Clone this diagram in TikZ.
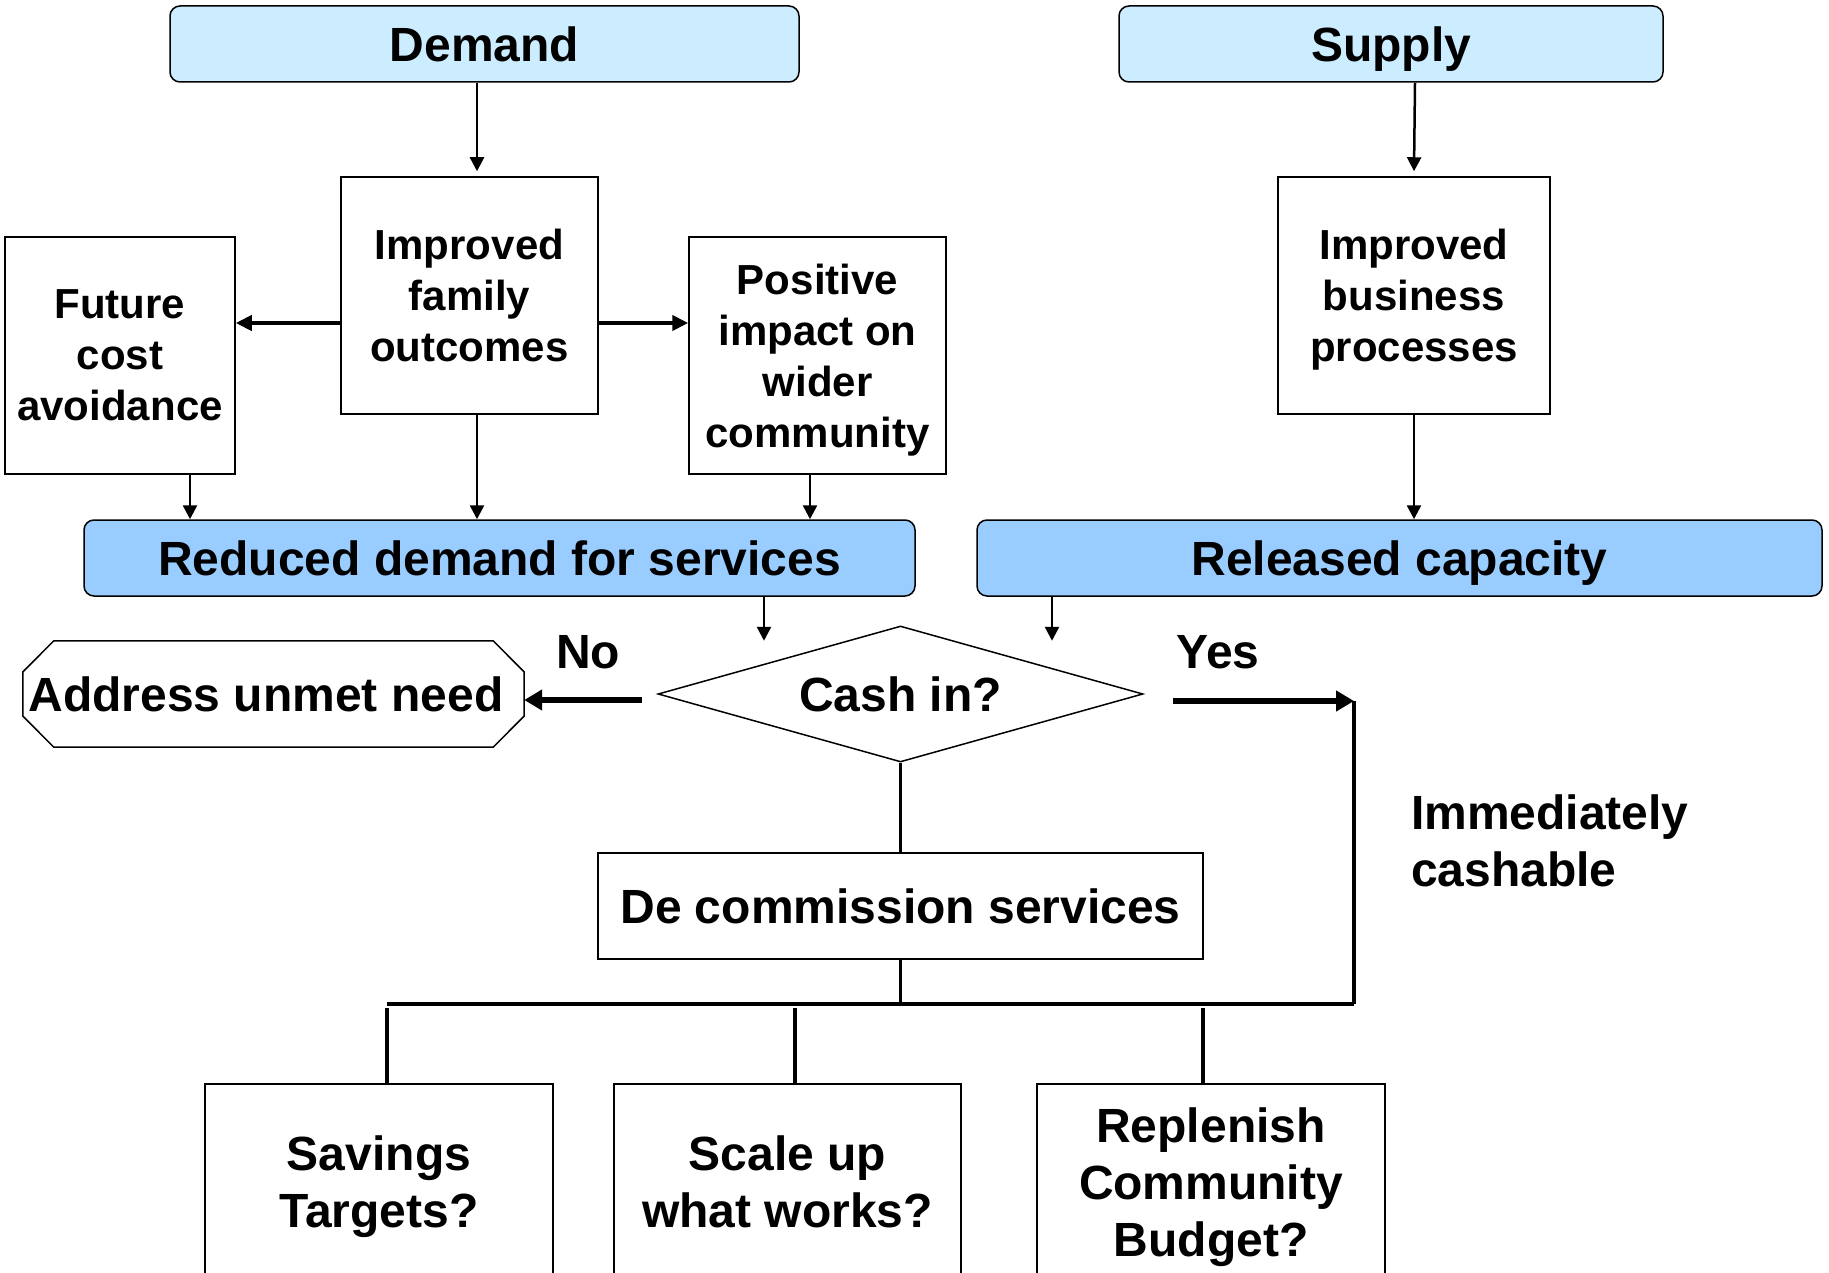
\documentclass[tikz,border=0pt]{standalone}
\usepackage{fontspec}
\setmainfont{Liberation Sans}
\usetikzlibrary{arrows.meta,shapes.geometric}
\definecolor{lightblue}{HTML}{CCECFF}
\definecolor{midblue}{HTML}{99CCFF}
\newcommand\nodp[1]{\raisebox{0pt}[\height][0pt]{#1}}
\begin{document}
\begin{tikzpicture}[x=1pt,y=-1pt,
  bigtext/.style={font=\bfseries\fontsize{48}{57}\selectfont},
  midtext/.style={font=\bfseries\fontsize{42}{51}\selectfont},
  box/.style={draw=black,line width=1.5pt,rectangle,inner sep=0pt,align=center},
  oneline/.style={text height=35pt,text depth=0pt},
  headbox/.style={box,rounded corners=10pt,bigtext,oneline,minimum height=76pt},
  thinarr/.style={line width=2.5pt,-{Triangle[length=14pt,width=14pt]}},
  medarr/.style={line width=4pt,-{Triangle[length=16pt,width=15pt]}},
  fatarr/.style={line width=6pt,-{Triangle[length=18pt,width=20pt]}},
  plainline/.style={line width=3pt},
  fatline/.style={line width=4.5pt}]
\clip (0,0) rectangle (1829,1273);
\fill[white] (0,0) rectangle (1829,1273);

% header boxes
\node[headbox,fill=lightblue,minimum width=629pt] (demand) at (484.5,44) {Demand};
\node[headbox,fill=lightblue,minimum width=544pt] (supply) at (1391,44) {Supply};

% middle boxes
\node[box,midtext,minimum width=257pt,minimum height=237pt] (fam) at (469.5,295.5) {Improved\\family\\outcomes};
\node[box,midtext,minimum width=230pt,minimum height=237pt] (future) at (120,355.5) {Future\\cost\\avoidance};
\node[box,midtext,minimum width=257pt,minimum height=237pt] (pos) at (817.5,355.5) {Positive\\impact on\\wider\\\nodp{community}};
\node[box,midtext,minimum width=272pt,minimum height=237pt] (bus) at (1414,295.5) {Improved\\business\\\nodp{processes}};

% blue bars
\node[headbox,fill=midblue,minimum width=831pt] (reduced) at (499.5,558) {Reduced demand for services};
\node[headbox,fill=midblue,minimum width=845pt] (released) at (1399.5,558) {Released capacity};

% decision
\node[diamond,draw=black,line width=1.5pt,inner sep=0pt,aspect=3.57,minimum width=485pt,minimum height=136pt,bigtext,oneline] (dia) at (900.5,694) {Cash in?};

% address unmet need (octagon)
\node[inner sep=0pt,minimum width=501pt,minimum height=106pt,bigtext,oneline] (addr) at (273.5,694) {\hspace*{-15pt}Address unmet need};
\draw[line width=1.5pt] ([xshift=31pt]addr.north west) -- ([xshift=-31pt]addr.north east)
  -- ([yshift=22pt]addr.east) -- ([yshift=-22pt]addr.east)
  -- ([xshift=-31pt]addr.south east) -- ([xshift=31pt]addr.south west)
  -- ([yshift=-22pt]addr.west) -- ([yshift=22pt]addr.west) -- cycle;

% labels
\node[bigtext,inner sep=0pt] (no) at (588,652) {No};
\node[bigtext,inner sep=0pt] (yes) at (1218,652) {Yes};
\node[bigtext,inner sep=0pt,align=left,anchor=west] (cashable) at (1411,841) {Immediately\\cashable};

% decommission
\node[box,bigtext,oneline,minimum width=605pt,minimum height=106pt] (decom) at (900.5,906) {De commission services};

% bottom boxes
\node[box,bigtext,minimum width=348pt,minimum height=196pt] (sav) at (379,1182) {Savings\\\nodp{Targets?}};
\node[box,bigtext,minimum width=347pt,minimum height=196pt] (scale) at (787.5,1182) {Scale up\\what works?};
\node[box,bigtext,minimum width=348pt,minimum height=196pt] (rep) at (1211,1182) {Replenish\\Community\\\nodp{Budget?}};

% arrows top
\draw[thinarr] ([xshift=-7.5pt]demand.south) -- ([xshift=7.5pt,yshift=5pt]fam.north);
\draw[thinarr] ([xshift=24pt]supply.south) -- ([yshift=5pt]bus.north);
\coordinate (hl) at ([yshift=-27.5pt]fam.west);
\coordinate (hr) at ([yshift=-27.5pt]fam.east);
\draw[medarr] (hl) -- (hl -| future.east);
\draw[medarr] (hr) -- (hr -| pos.west);
\draw[thinarr] ([xshift=70pt]future.south) -- ([xshift=70pt]future.south |- reduced.north);
\draw[thinarr] ([xshift=7.5pt]fam.south) -- ([xshift=7.5pt]fam.south |- reduced.north);
\draw[thinarr] ([xshift=-7.5pt]pos.south) -- ([xshift=-7.5pt]pos.south |- reduced.north);
\draw[thinarr] (bus.south) -- (bus.south |- released.north);

% arrows to decision
\coordinate (rd) at ([xshift=264.5pt]reduced.south);
\coordinate (rl) at ([xshift=-347.5pt]released.south);
\draw[thinarr] (rd) -- ++(0,44);
\draw[thinarr] (rl) -- ++(0,44);

% No / Yes
\coordinate (nostart) at ([xshift=-15pt,yshift=-6pt]dia.west);
\draw[fatarr] (nostart) -- (nostart -| addr.east);
\coordinate (yesstart) at ([xshift=29pt,yshift=-7pt]dia.east);
\coordinate (yesend) at (1354,701);
\coordinate (corner) at (1354,1004);
\coordinate (barleft) at (387,1004);
\draw[fatarr] (yesstart) -- (yesend);
\draw[line width=4pt] (yesend) -- (corner);
\draw[fatline] (corner) -- (barleft);

% decision to decommission to bar
\draw[plainline] (dia.south) -- (decom.north);
\draw[plainline] (decom.south) -- (decom.south |- corner);

% drops
\draw[line width=3.5pt] ([xshift=8pt]sav.north) ++(0,-75) -- ([xshift=8pt]sav.north);
\draw[line width=3.5pt] ([xshift=7.5pt]scale.north) ++(0,-75) -- ([xshift=7.5pt]scale.north);
\draw[line width=3.5pt] ([xshift=-8pt]rep.north) ++(0,-75) -- ([xshift=-8pt]rep.north);
\end{tikzpicture}
\end{document}
